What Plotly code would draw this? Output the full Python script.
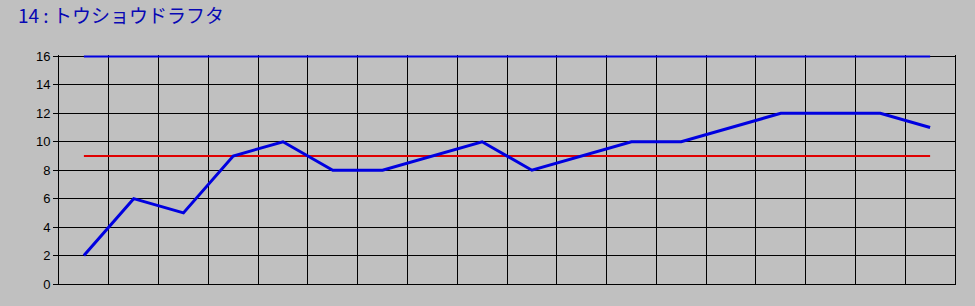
import plotly.graph_objects as go

title_text = "14 : トウショウドラフタ"
races = list(range(1, 19))
values = [2, 6, 5, 9, 10, 8, 8, 9, 10, 8, 9, 10, 10, 11, 12, 12, 12, 11]
avg_level = [9] * len(races)
max_level = [16] * len(races)
y_ticks = [0, 2, 4, 6, 8, 10, 12, 14, 16]

fig = go.Figure()
fig.add_trace(go.Scatter(x=races, y=max_level, mode="lines",
                         line=dict(color="#0000E0", width=2), hoverinfo="skip"))
fig.add_trace(go.Scatter(x=races, y=avg_level, mode="lines",
                         line=dict(color="#E00000", width=2), hoverinfo="skip"))
fig.add_trace(go.Scatter(x=races, y=values, mode="lines",
                         line=dict(color="#0000E0", width=3)))

fig.update_layout(
    width=975, height=306,
    margin=dict(l=59, r=20, t=55, b=22),
    paper_bgcolor="#C0C0C0", plot_bgcolor="#C0C0C0",
    showlegend=False,
    title=dict(text=title_text, x=18 / 975, xanchor="left", y=1 - 16.5 / 306, yanchor="middle",
               font=dict(family="Noto Sans CJK JP", size=19, color="#0808B4")),
    xaxis=dict(range=[0.5, 18.5], tickmode="linear", tick0=0.5, dtick=1,
               showgrid=True, gridcolor="black", gridwidth=1, zeroline=False,
               showticklabels=False, ticks="", showline=True, linecolor="black",
               linewidth=1, mirror=False, fixedrange=True, layer="below traces"),
    yaxis=dict(range=[0, 16.1], tickvals=y_ticks, showgrid=True, gridcolor="black",
               gridwidth=1, zeroline=False, ticks="outside", ticklen=5,
               tickcolor="black", showline=True, linecolor="black", linewidth=1,
               mirror=True, ticksuffix="\u00a0",
               tickfont=dict(family="Liberation Sans", size=13, color="black"),
               fixedrange=True, layer="below traces"),
)
fig.write_html("out.html", config={"displayModeBar": False})
